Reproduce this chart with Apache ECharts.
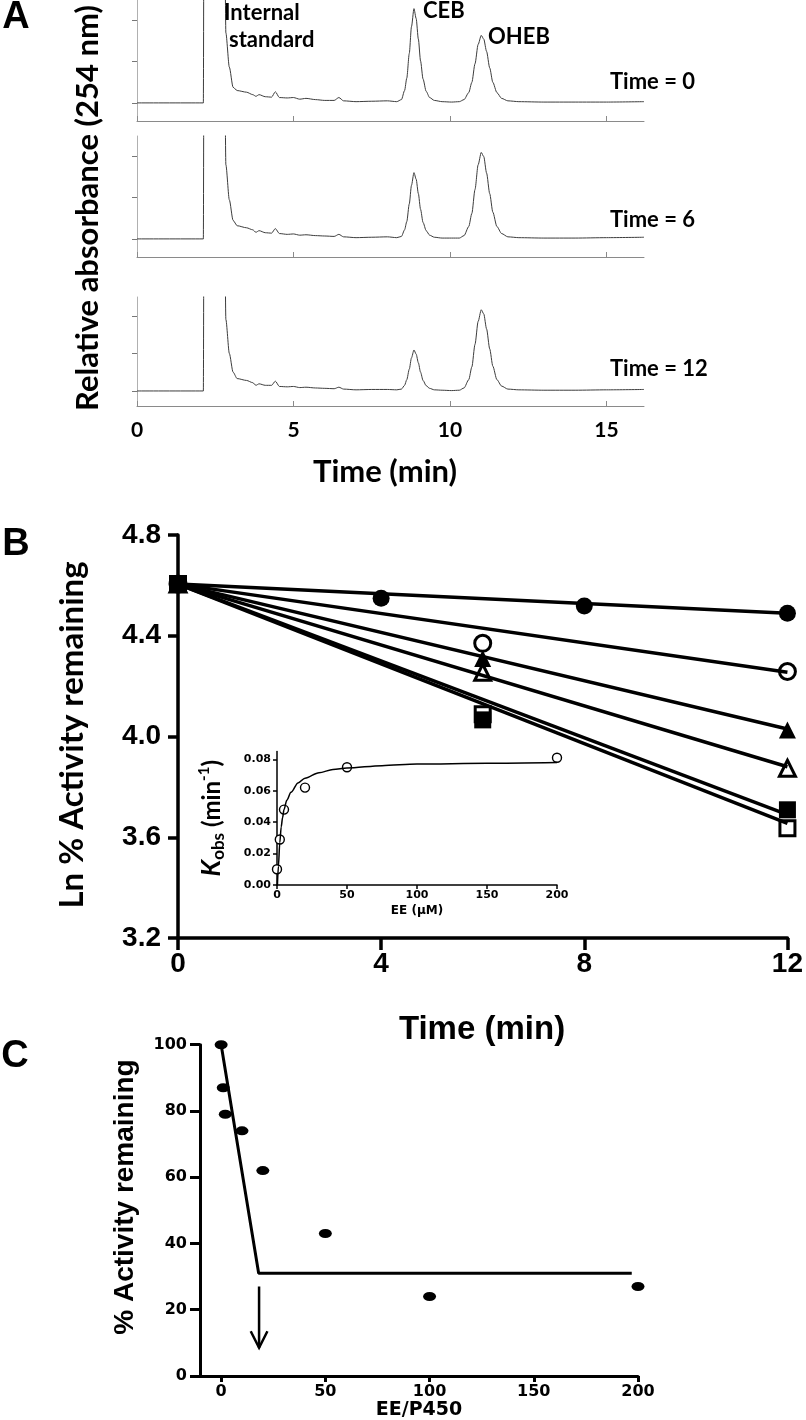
<!DOCTYPE html>
<html><head><meta charset="utf-8">
<script src="https://cdn.jsdelivr.net/npm/echarts@6/dist/echarts.min.js"></script>
<style>html,body{margin:0;padding:0;background:#fff}#c{width:806px;height:1420px}</style>
</head><body><div id="c"></div>
<script>
// ---------- Panel A: chromatograms ----------
const chromTime = [0,2.12,2.15,2.76,2.84,2.95,3.07,3.2,3.5,3.7,3.8,3.9,4.1,4.3,4.42,4.55,4.8,5.0,5.2,5.4,5.7,6.0,6.3,6.45,6.6,7.0,7.5,8.0,8.3,
  8.45,8.55,8.62,8.7,8.77,8.85,8.92,8.99,9.06,9.14,9.24,9.35,9.5,9.75,10.05,10.3,
  10.45,10.6,10.7,10.8,10.9,11.0,11.08,11.17,11.27,11.37,11.5,11.65,11.85,12.2,13,14,15,16.2];
const trace0 = [0,0,9,9,1.7,0.87,0.38,0.30,0.26,0.20,0.16,0.20,0.15,0.14,0.27,0.13,0.12,0.13,0.09,0.11,0.08,0.06,0.06,0.13,0.05,0.03,0.04,0.05,0.03,
  0.08,0.30,0.60,1.20,1.85,2.29,2.05,1.55,1.02,0.58,0.28,0.13,0.06,0.03,0.02,0.03,
  0.08,0.25,0.50,0.95,1.42,1.64,1.55,1.25,0.85,0.50,0.25,0.11,0.05,0.03,0.02,0.02,0.02,0.03];
const trace6 = [0,0,9,9,1.8,0.95,0.45,0.32,0.27,0.22,0.16,0.20,0.15,0.14,0.25,0.13,0.11,0.12,0.09,0.10,0.08,0.07,0.06,0.11,0.05,0.03,0.04,0.05,0.03,
  0.06,0.22,0.42,0.85,1.30,1.61,1.45,1.10,0.72,0.40,0.20,0.09,0.04,0.02,0.02,0.02,
  0.08,0.30,0.62,1.20,1.80,2.10,2.00,1.60,1.10,0.65,0.30,0.13,0.05,0.03,0.02,0.02,0.03,0.04];
const trace12 = [0,0,9,9,1.9,1.0,0.5,0.33,0.28,0.22,0.15,0.19,0.15,0.15,0.26,0.12,0.11,0.12,0.09,0.10,0.08,0.07,0.06,0.10,0.05,0.03,0.04,0.04,0.03,
  0.05,0.15,0.30,0.58,0.88,1.09,0.98,0.75,0.50,0.28,0.14,0.07,0.03,0.02,0.01,0.02,
  0.08,0.30,0.64,1.24,1.85,2.16,2.05,1.65,1.12,0.66,0.30,0.13,0.05,0.03,0.02,0.02,0.03,0.04];
const chromTicks = [0,5,10,15];
const chromYTicks = [0,1,2];
const timeLabels = ['Time = 0','Time = 6','Time = 12'];

// ---------- Panel B: Ln % activity vs time ----------
const bTimeA = [0,4,8,12];
const bTimeB = [0,6,12];
const filledCircle = [4.605,4.549,4.518,4.489];
const openCircle = [4.605,4.370,4.258];
const filledTriangle = [4.605,4.310,4.026];
const openTriangle = [4.605,4.255,3.874];
const filledSquare = [4.605,4.066,3.709];
const openSquare = [4.605,4.088,3.636];
const fitX = [0,12];
const fitFilledCircle = [4.605,4.489];
const fitOpenCircle = [4.605,4.255];
const fitFilledTriangle = [4.605,4.030];
const fitOpenTriangle = [4.605,3.880];
const fitFilledSquare = [4.605,3.690];
const fitOpenSquare = [4.605,3.655];

// inset
const eeConc = [0,2,5,20,50,200];
const kobs = [0.010,0.029,0.048,0.062,0.075,0.081];
const eeFit = [0.3,1,2,3,4,5,7,10,15,20,30,40,50,75,100,150,200];
const kobsFit = [0,0.012,0.027,0.037,0.043,0.048,0.054,0.059,0.065,0.068,0.0715,0.0735,0.0745,0.076,0.077,0.0775,0.078];
const insetYTicks = [0,0.02,0.04,0.06,0.08];

// ---------- Panel C: % activity vs EE/P450 ----------
const ratio = [0,1,2,10,20,50,100,200];
const activity = [100,87,79,74,62,43,24,27];
const segX = [0,18,197];
const segY = [100,31,31];
const arrowX = [18.2,18.2];
const arrowY = [27,8.5];
const arrowHeadX = [14.2,18.2,22.2];
const arrowHeadY = [13.5,8.5,13.5];
const cXTicks = [0,50,100,150,200];

const zip = (xs, ys) => xs.map((x,i)=>[x, ys[i]]);

const chart = echarts.init(document.getElementById('c'), null, {renderer:'canvas'});

const chromGrids = [
  {left:137, top:0, width:507, height:121},
  {left:137, top:136, width:507, height:121},
  {left:137, top:297, width:507, height:109}
];
const chromYMin = [-0.44,-0.44,-0.4];

function chromX(i){
  return {type:'value', gridIndex:i, min:0, max:16.2,
    axisLine:{show:true,onZero:false,lineStyle:{color:'#8a8a8a',width:1}},
    axisTick:{show:true,inside:true,length:5,customValues:chromTicks,lineStyle:{color:'#8a8a8a',width:1}},
    axisLabel:{show:i===2,customValues:chromTicks,margin:14,fontFamily:'Lato',fontWeight:'bold',fontSize:21,color:'#000'},
    splitLine:{show:false}};
}
function chromY(i){
  return {type:'value', gridIndex:i, min:chromYMin[i], max:2.5,
    axisLine:{show:true,onZero:false,lineStyle:{color:'#b0b0b0',width:1}},
    axisTick:{show:true,length:5,customValues:chromYTicks,lineStyle:{color:'#777',width:1}},
    axisLabel:{show:false},
    splitLine:{show:false}};
}
const traces = [trace0, trace6, trace12];

const bold = (fam,size,extra)=>Object.assign({fontFamily:fam,fontWeight:'bold',fontSize:size,color:'#000'},extra||{});

const series = [];
traces.forEach((tr,i)=>{
  series.push({type:'line', xAxisIndex:i, yAxisIndex:i, data:zip(chromTime,tr), showSymbol:false,
    smooth:0.25, smoothMonotone:'x', clip:true, lineStyle:{color:'#3c3c3c',width:1}, silent:true});
});
[fitFilledCircle,fitOpenCircle,fitFilledTriangle,fitOpenTriangle,fitFilledSquare,fitOpenSquare].forEach(f=>{
  series.push({type:'line', xAxisIndex:3, yAxisIndex:3, data:zip(fitX,f), showSymbol:false,
    lineStyle:{color:'#000',width:3.5}, silent:true});
});
const openStyle = {color:'#fff', borderColor:'#000', borderWidth:3, opacity:1};
const fillStyle = {color:'#000', opacity:1};
function sc(xs, ys, symbol, size, style){
  return {type:'scatter', xAxisIndex:3, yAxisIndex:3, data:zip(xs,ys), symbol:symbol, symbolSize:size, itemStyle:style, silent:true};
}
series.push(sc(bTimeA, filledCircle, 'circle', 17, fillStyle));
series.push(sc(bTimeB, openCircle, 'circle', 16, openStyle));
series.push(sc(bTimeB, openTriangle, 'triangle', 16, openStyle));
series.push(sc(bTimeB, filledTriangle, 'triangle', 17, fillStyle));
series.push(sc(bTimeB, openSquare, 'rect', 15, openStyle));
series.push(sc(bTimeB, filledSquare, 'rect', 17, fillStyle));
// inset
series.push({type:'line', xAxisIndex:4, yAxisIndex:4, data:zip(eeFit,kobsFit), showSymbol:false, smooth:0.3, smoothMonotone:'x',
  lineStyle:{color:'#000',width:1.5}, silent:true});
series.push({type:'scatter', xAxisIndex:4, yAxisIndex:4, data:zip(eeConc,kobs), symbol:'circle', symbolSize:9,
  itemStyle:{color:'#fff',borderColor:'#000',borderWidth:1.4,opacity:1}, silent:true});
// C
series.push({type:'line', xAxisIndex:5, yAxisIndex:5, data:zip(segX,segY), showSymbol:false,
  lineStyle:{color:'#000',width:3}, silent:true});
series.push({type:'line', xAxisIndex:5, yAxisIndex:5, data:zip(arrowX,arrowY), showSymbol:false,
  lineStyle:{color:'#000',width:2.5}, silent:true});
series.push({type:'line', xAxisIndex:5, yAxisIndex:5, data:zip(arrowHeadX,arrowHeadY), showSymbol:false,
  lineStyle:{color:'#000',width:2.5,join:'miter'}, silent:true});
series.push({type:'scatter', xAxisIndex:5, yAxisIndex:5, data:zip(ratio,activity), symbol:'circle', symbolSize:[13,9],
  itemStyle:{color:'#000',opacity:1}, silent:true});

function txt(x,y,text,font,rot){
  const o = {type:'text', x:x, y:y, silent:true, z:100,
    style:{text:text, font:font, fill:'#000', align:'center', verticalAlign:'middle'}};
  if (rot) o.rotation = rot;
  return o;
}
function ltxt(x,y,text,font){
  return {type:'text', x:x, y:y, silent:true, z:100,
    style:{text:text, font:font, fill:'#000', align:'left', verticalAlign:'middle'}};
}
const R = Math.PI/2;

const option = {
  backgroundColor:'#fff',
  animation:false,
  grid:[
    ...chromGrids,
    {left:178, top:535, width:610, height:403},
    {left:277, top:751.5, width:280, height:133.5},
    {left:193, top:1044.7, width:445, height:331.3}
  ],
  xAxis:[
    chromX(0), chromX(1), chromX(2),
    {type:'value', gridIndex:3, min:0, max:12, interval:4,
      axisLine:{lineStyle:{color:'#000',width:3.5}},
      axisTick:{length:12,lineStyle:{color:'#000',width:3.5}},
      axisLabel:bold('Liberation Sans',28,{margin:12}), splitLine:{show:false}},
    {type:'value', gridIndex:4, min:0, max:200, interval:50,
      axisLine:{lineStyle:{color:'#000',width:1.5}},
      axisTick:{length:4,lineStyle:{color:'#000',width:1.5}},
      axisLabel:bold('DejaVu Sans',11,{margin:5}), splitLine:{show:false}},
    {type:'value', gridIndex:5, min:-13.5, max:200,
      axisLine:{onZero:false,lineStyle:{color:'#000',width:3}},
      axisTick:{length:6,customValues:cXTicks,lineStyle:{color:'#000',width:3}},
      axisLabel:bold('DejaVu Sans',16,{margin:8,customValues:cXTicks}), splitLine:{show:false}}
  ],
  yAxis:[
    chromY(0), chromY(1), chromY(2),
    {type:'value', gridIndex:3, min:3.2, max:4.8, interval:0.4,
      axisLine:{onZero:false,lineStyle:{color:'#000',width:3.5}},
      axisTick:{length:10,lineStyle:{color:'#000',width:3.5}},
      axisLabel:bold('Liberation Sans',28,{margin:17,formatter:v=>v.toFixed(1)}), splitLine:{show:false}},
    {type:'value', gridIndex:4, min:0, max:0.085,
      name:'{k|K}{s|obs}{n| (min}{p|-1}{n|)}', nameLocation:'middle', nameRotate:90, nameGap:50,
      nameTextStyle:{color:'#000', rich:{
        k:{fontFamily:'Lato', fontWeight:'bold', fontStyle:'italic', fontSize:26, color:'#000', lineHeight:30},
        s:{fontFamily:'Lato', fontWeight:'bold', fontSize:17, color:'#000', lineHeight:30, verticalAlign:'bottom', padding:[7,0,0,0]},
        n:{fontFamily:'Lato', fontWeight:'bold', fontSize:24, color:'#000', lineHeight:30},
        p:{fontFamily:'Lato', fontWeight:'bold', fontSize:15, color:'#000', lineHeight:30, verticalAlign:'top', padding:[0,0,9,0]}
      }},
      axisLine:{onZero:false,lineStyle:{color:'#000',width:1.5}},
      axisTick:{length:4,customValues:insetYTicks,lineStyle:{color:'#000',width:1.5}},
      axisLabel:bold('DejaVu Sans',11,{margin:6,customValues:insetYTicks,formatter:v=>v.toFixed(2)}), splitLine:{show:false}},
    {type:'value', gridIndex:5, min:0, max:100, interval:20, offset:-7,
      axisLine:{onZero:false,lineStyle:{color:'#000',width:3}},
      axisTick:{length:10,lineStyle:{color:'#000',width:3}},
      axisLabel:bold('DejaVu Sans',16,{margin:13}), splitLine:{show:false}}
  ],
  series:series,
  graphic:[
    txt(16,18,'A','bold 38px "Liberation Sans"'),
    txt(88,208,'Relative absorbance (254 nm)','bold 31px Lato',R),
    ltxt(224,13,'Internal','bold 22px Lato'),
    ltxt(229,40,'standard','bold 22px Lato'),
    ltxt(423,11,'CEB','bold 22px Lato'),
    ltxt(488,37,'OHEB','bold 22px Lato'),
    ltxt(610,82,timeLabels[0],'bold 22px Lato'),
    ltxt(610,220,timeLabels[1],'bold 22px Lato'),
    ltxt(610,369,timeLabels[2],'bold 22px Lato'),
    txt(385,472,'Time (min)','bold 31px Lato'),
    txt(16,545,'B','bold 38px "Liberation Sans"'),
    txt(72,735,'Ln % Activity remaining','bold 33px Lato',R),
    txt(482,1030,'Time (min)','bold 33px "Liberation Sans"'),
    txt(417,911,'EE (\u03bcM)','bold 12px "DejaVu Sans"'),
    txt(15,1057,'C','bold 38px "Liberation Sans"'),
    txt(125,1197,'% Activity remaining','bold 28px "Liberation Sans"',R),
    txt(419,1410,'EE/P450','bold 19px "DejaVu Sans"')
  ]
};
chart.setOption(option);
</script>
</body></html>
